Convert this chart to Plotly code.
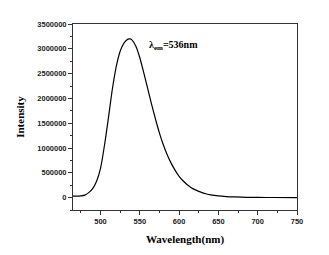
import plotly.graph_objects as go

wavelength = [465, 470, 475, 480, 485, 490, 495, 500, 505, 510, 515, 520, 525, 530,
              535, 538, 540, 545, 550, 555, 560, 565, 570, 575, 580, 585, 590, 595,
              600, 605, 610, 615, 620, 625, 630, 635, 640, 650, 660, 670, 680, 690,
              700, 720, 750]
intensity = [30000, 30000, 35000, 50000, 100000, 180000, 330000, 590000, 1050000,
             1600000, 2180000, 2640000, 2950000, 3120000, 3195000, 3200000, 3180000,
             3050000, 2820000, 2520000, 2200000, 1880000, 1580000, 1300000, 1060000,
             860000, 690000, 550000, 430000, 340000, 265000, 205000, 160000, 125000,
             95000, 73000, 56000, 34000, 21000, 13000, 8000, 5000, 3000, 2000, 1000]
x_ticks = [500, 550, 600, 650, 700, 750]
y_ticks = [0, 500000, 1000000, 1500000, 2000000, 2500000, 3000000, 3500000]

fig = go.Figure()
fig.add_trace(go.Scatter(x=wavelength, y=intensity, mode="lines",
                         line=dict(color="black", width=1.2, shape="spline", smoothing=0.8),
                         showlegend=False))

tickfont = dict(family="Liberation Sans, Arial, sans-serif", size=7.5, color="#222", weight="bold")
axis_common = dict(showline=True, mirror=True, linecolor="#333", linewidth=1,
                   ticks="outside", ticklen=4, tickcolor="#333", showgrid=False,
                   zeroline=False, tickfont=tickfont)

fig.update_xaxes(range=[465, 750], tickvals=x_ticks, ticktext=[str(v) for v in x_ticks],
                 minor=dict(ticks="outside", dtick=25, tick0=0, ticklen=2, tickcolor="#333"),
                 title=dict(text="Wavelength(nm)", standoff=10,
                            font=dict(family="Liberation Serif, Times New Roman, serif",
                                      size=11, color="black", weight="bold")),
                 **axis_common)
fig.update_yaxes(range=[-250000, 3500000], tickvals=y_ticks, ticktext=[str(v) for v in y_ticks],
                 minor=dict(ticks="outside", dtick=250000, tick0=0, ticklen=2, tickcolor="#333"),
                 title=dict(text="Intensity", standoff=10,
                            font=dict(family="Liberation Serif, Times New Roman, serif",
                                      size=11, color="black", weight="bold")),
                 **axis_common)

fig.add_annotation(x=559, y=3060000, xref="x", yref="y", xanchor="left", yanchor="middle",
                   text="<b>λ<sub>em</sub>=536nm</b>", showarrow=False,
                   font=dict(family="Liberation Serif, Times New Roman, serif", size=10, color="black"))

# page body has an 8px default margin; offsets compensate for it
fig.update_layout(width=329, height=255, margin=dict(l=62, r=40, t=16, b=53),
                  paper_bgcolor="white", plot_bgcolor="white")

fig.write_html("out.html")
